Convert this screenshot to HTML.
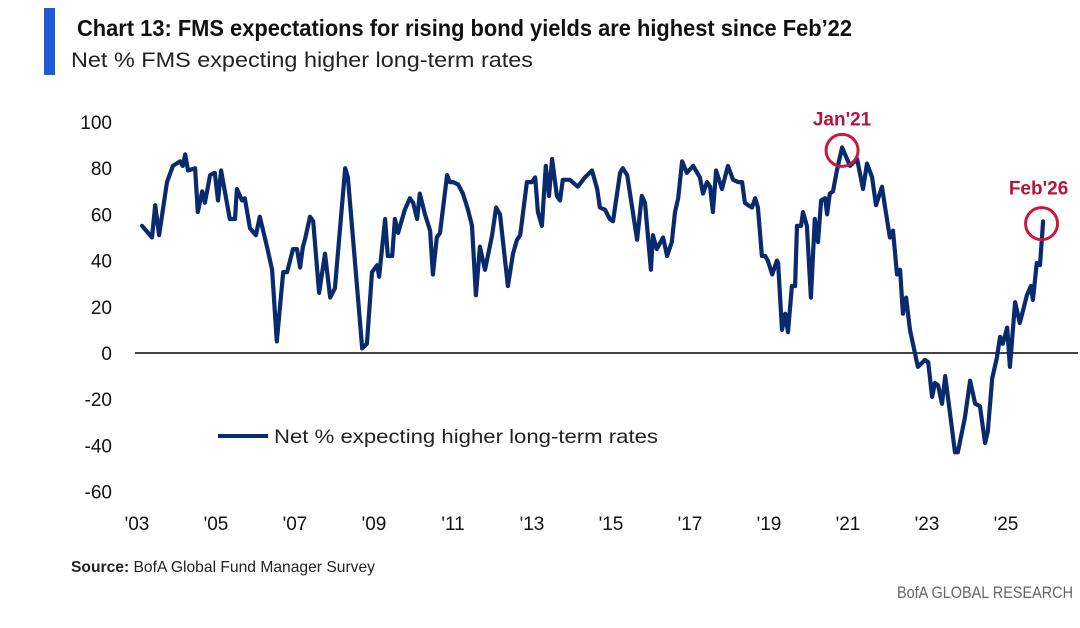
<!DOCTYPE html>
<html><head><meta charset="utf-8"><style>
html,body{margin:0;padding:0;background:#fff;}
svg{display:block;font-family:"Liberation Sans",sans-serif;}
</style></head><body>
<svg id="chart" width="1080" height="628" viewBox="0 0 1080 628" xmlns="http://www.w3.org/2000/svg">
<rect x="44" y="8" width="11" height="67" fill="#1f5bd6"/>
<text x="77" y="36" font-size="23" font-weight="bold" fill="#111" textLength="775" lengthAdjust="spacingAndGlyphs">Chart 13: FMS expectations for rising bond yields are highest since Feb’22</text>
<text x="71" y="67" font-size="21" fill="#222" textLength="462" lengthAdjust="spacingAndGlyphs">Net % FMS expecting higher long-term rates</text>
<g id="yticks"></g>
<g id="xticks"></g>
<line id="zero" x1="135" x2="1078" stroke="#444" stroke-width="2"/>
<path id="series" fill="none" stroke="#0a2a6e" stroke-width="4.2" stroke-linejoin="round" stroke-linecap="round"/>
<g>
<line x1="218" x2="268" y1="436" y2="436" stroke="#0a2a6e" stroke-width="4"/>
<text x="274" y="443" font-size="19" fill="#222" textLength="384" lengthAdjust="spacingAndGlyphs">Net % expecting higher long-term rates</text>
</g>
<g id="annots"></g>
<text x="71" y="572" font-size="16" fill="#222" textLength="304" lengthAdjust="spacingAndGlyphs"><tspan font-weight="bold">Source:</tspan> BofA Global Fund Manager Survey</text>
<text x="1073" y="598" font-size="17" fill="#666" text-anchor="end" textLength="176" lengthAdjust="spacingAndGlyphs">BofA GLOBAL RESEARCH</text>
</svg>
<script>
const dates = [2003.13,2003.38,2003.46,2003.56,2003.76,2003.91,2004.09,2004.16,2004.22,2004.29,2004.47,2004.54,2004.65,2004.72,2004.85,2004.97,2005.05,2005.13,2005.35,2005.48,2005.53,2005.66,2005.73,2005.86,2006.01,2006.11,2006.29,2006.42,2006.54,2006.70,2006.80,2006.95,2007.05,2007.13,2007.20,2007.25,2007.38,2007.46,2007.61,2007.76,2007.89,2008.01,2008.27,2008.34,2008.70,2008.82,2008.95,2009.08,2009.13,2009.28,2009.35,2009.46,2009.53,2009.61,2009.78,2009.91,2009.99,2010.09,2010.16,2010.29,2010.42,2010.49,2010.59,2010.67,2010.85,2010.92,2011.00,2011.13,2011.25,2011.38,2011.48,2011.58,2011.68,2011.81,2011.99,2012.09,2012.19,2012.39,2012.52,2012.62,2012.70,2012.87,2013.00,2013.08,2013.15,2013.25,2013.35,2013.43,2013.51,2013.63,2013.71,2013.78,2013.96,2014.09,2014.16,2014.34,2014.52,2014.65,2014.72,2014.85,2014.97,2015.05,2015.23,2015.30,2015.41,2015.66,2015.78,2015.86,2016.01,2016.06,2016.16,2016.32,2016.42,2016.54,2016.62,2016.70,2016.80,2016.92,2017.08,2017.25,2017.33,2017.43,2017.51,2017.58,2017.66,2017.81,2017.96,2018.09,2018.22,2018.32,2018.39,2018.47,2018.57,2018.65,2018.72,2018.82,2018.90,2018.97,2019.08,2019.20,2019.23,2019.33,2019.41,2019.48,2019.58,2019.66,2019.71,2019.81,2019.86,2019.96,2020.06,2020.16,2020.24,2020.32,2020.42,2020.47,2020.54,2020.62,2020.72,2020.85,2021.05,2021.23,2021.38,2021.48,2021.61,2021.71,2021.86,2021.94,2022.06,2022.14,2022.24,2022.32,2022.39,2022.47,2022.57,2022.77,2022.95,2023.03,2023.13,2023.20,2023.28,2023.38,2023.46,2023.53,2023.71,2023.78,2023.96,2024.09,2024.22,2024.34,2024.47,2024.54,2024.65,2024.77,2024.85,2024.92,2025.03,2025.10,2025.23,2025.35,2025.53,2025.63,2025.68,2025.78,2025.86,2025.94];
const values = [55,50,64,51,74,81,83,81,86,79,80,61,70,65,77,78,66,79,58,58,71,66,67,54,51,59,46,36,5,35,35,45,45,37,46,49,59,57,26,43,24,28,80,76,2,4,35,38,33,58,42,42,58,52,62,67,65,58,69,60,53,34,50,52,77,74,74,73,69,62,55,25,46,36,51,63,60,29,43,49,51,74,74,76,61,55,81,68,84,68,66,75,75,73,72,76,79,71,63,62,58,57,78,80,77,49,68,65,36,51,45,50,42,48,61,67,83,78,81,76,69,74,72,61,79,71,81,75,74,74,65,64,63,67,63,42,42,40,34,40,39,10,17,9,29,29,55,55,61,55,24,58,48,66,67,60,69,70,79,89,81,84,71,82,76,64,72,63,50,53,34,36,17,24,10,-6,-3,-4,-19,-13,-14,-22,-10,-19,-43,-43,-28,-12,-22,-23,-39,-34,-11,-2,7,4,11,-6,22,13,25,29,23,39,38,57];
const yTicks = [100,80,60,40,20,0,-20,-40,-60];
const xTickYears = [2003,2005,2007,2009,2011,2013,2015,2017,2019,2021,2023,2025];
const xTickLabels = ["'03","'05","'07","'09","'11","'13","'15","'17","'19","'21","'23","'25"];
const annotDates = [2020.85, 2025.9];
const annotValues = [89, 56];
const annotLabels = ["Jan'21", "Feb'26"];

const NS = "http://www.w3.org/2000/svg";
const X = d => 137 + (d - 2003) * 39.5;
const Y = v => 353 - 2.31 * v;

const yg = document.getElementById('yticks');
yTicks.forEach(v => {
  const t = document.createElementNS(NS, 'text');
  t.setAttribute('x', 112); t.setAttribute('y', Y(v) + 7);
  t.setAttribute('text-anchor', 'end'); t.setAttribute('font-size', '19'); t.setAttribute('fill', '#111');
  t.textContent = v;
  
  
  yg.appendChild(t);
});
const xg = document.getElementById('xticks');
xTickYears.forEach((d, i) => {
  const t = document.createElementNS(NS, 'text');
  t.setAttribute('x', X(d)); t.setAttribute('y', 530);
  t.setAttribute('text-anchor', 'middle'); t.setAttribute('font-size', '19'); t.setAttribute('fill', '#111');
  t.textContent = xTickLabels[i];
  
  
  xg.appendChild(t);
});
const z = document.getElementById('zero');
z.setAttribute('y1', Y(0)); z.setAttribute('y2', Y(0));

document.getElementById('series').setAttribute('d',
  dates.map((d, i) => (i ? 'L' : 'M') + X(d).toFixed(1) + ' ' + Y(values[i]).toFixed(1)).join(' '));

const ag = document.getElementById('annots');
annotDates.forEach((d, i) => {
  const c = document.createElementNS(NS, 'circle');
  c.setAttribute('cx', X(d)); c.setAttribute('cy', Y(annotValues[i]) + (i ? 0 : 3)); c.setAttribute('r', 16);
  c.setAttribute('fill', 'none'); c.setAttribute('stroke', '#c8193c'); c.setAttribute('stroke-width', '3');
  
  
  ag.appendChild(c);
  const t = document.createElementNS(NS, 'text');
  t.setAttribute('x', X(d) - (i ? 3 : 0)); t.setAttribute('y', Y(annotValues[i]) - (i ? 29 : 22));
  t.setAttribute('text-anchor', 'middle'); t.setAttribute('font-size', '19'); t.setAttribute('font-weight', 'bold'); t.setAttribute('fill', '#b5163a');
  t.textContent = annotLabels[i];
  
  
  ag.appendChild(t);
});
</script>
</body></html>
